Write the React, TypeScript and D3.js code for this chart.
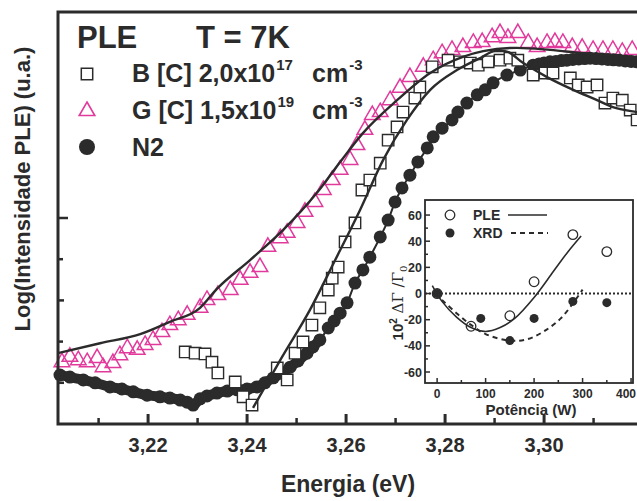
import React from 'react';
import * as d3 from 'd3';

// ---------- main plot data (energy in eV, log intensity in arbitrary units) ----------
const gEnergy = [3.2026,3.2042,3.2059,3.2077,3.2097,3.2109,3.2129,3.2143,3.2158,3.2178,3.2194,3.2210,3.2228,3.2244,3.2261,3.2279,3.2305,3.2319,3.2341,3.2366,3.2386,3.2406,3.2426,3.2442,3.2467,3.2481,3.2501,3.2517,3.2537,3.2554,3.2572,3.2588,3.2608,3.2622,3.2638,3.2653,3.2669,3.2689,3.2709,3.2729,3.2756,3.2776,3.2794,3.2814,3.2836,3.2857,3.2875,3.2895,3.2911,3.2927,3.2947,3.2968,3.2986,3.3006,3.3022,3.3038,3.3057,3.3077,3.3099,3.3119,3.3139,3.3158,3.3178];
const gValue = [1.50,1.63,1.55,1.50,1.60,1.38,1.48,1.67,1.84,1.80,1.92,2.04,2.23,2.40,2.52,2.65,2.82,3.01,3.13,3.25,3.50,3.67,3.81,4.30,4.51,4.64,4.88,5.15,5.39,5.68,5.92,6.17,6.41,6.77,7.14,7.50,7.57,7.86,8.16,8.42,8.67,8.83,9.00,9.08,9.15,9.25,9.27,9.39,9.49,9.37,9.49,9.25,9.15,9.25,9.27,9.25,9.15,9.13,9.08,9.08,9.08,9.03,9.08];

const bEnergy = [3.2275,3.2295,3.2315,3.2329,3.2341,3.2376,3.2392,3.2410,3.2461,3.2481,3.2497,3.2513,3.2531,3.2547,3.2564,3.2572,3.2584,3.2598,3.2618,3.2632,3.2648,3.2669,3.2685,3.2703,3.2715,3.2739,3.2749,3.2774,3.2806,3.2830,3.2851,3.2867,3.2887,3.2911,3.2931,3.2947,3.2978,3.3002,3.3018,3.3053,3.3069,3.3087,3.3107,3.3123,3.3139,3.3158,3.3174,3.3188];
const bValue = [1.75,1.72,1.70,1.50,1.24,1.02,0.66,0.46,1.36,1.07,1.72,1.99,2.40,2.82,3.25,3.54,3.81,4.42,4.88,5.68,5.92,6.33,6.89,7.21,7.57,7.91,8.18,8.67,8.83,8.79,8.76,8.71,8.79,8.83,8.88,8.83,8.47,8.52,8.52,8.40,8.23,8.18,8.23,7.79,7.91,7.86,7.62,7.38];

const n2Energy = [3.2022,3.2042,3.2069,3.2093,3.2123,3.2147,3.2170,3.2198,3.2224,3.2244,3.2265,3.2279,3.2291,3.2305,3.2319,3.2339,3.2360,3.2380,3.2400,3.2420,3.2436,3.2453,3.2471,3.2487,3.2503,3.2521,3.2533,3.2547,3.2564,3.2576,3.2588,3.2602,3.2618,3.2634,3.2648,3.2669,3.2685,3.2699,3.2713,3.2729,3.2745,3.2764,3.2776,3.2794,3.2814,3.2826,3.2844,3.2865,3.2881,3.2897,3.2925,3.2952,3.2978,3.2990,3.3000,3.3012,3.3024,3.3035,3.3046,3.3058,3.3070,3.3082,3.3093,3.3105,3.3117,3.3129,3.3140,3.3152,3.3164,3.3176,3.3188];
const n2Value = [1.19,1.14,1.07,1.00,0.90,0.85,0.78,0.70,0.66,0.63,0.58,0.53,0.46,0.61,0.68,0.75,0.80,0.83,0.85,0.90,1.00,1.12,1.24,1.38,1.53,1.72,1.87,2.04,2.33,2.50,2.69,2.94,3.42,3.74,4.05,4.54,4.95,5.39,5.73,6.04,6.36,6.70,6.97,7.18,7.38,7.57,7.79,7.99,8.11,8.28,8.47,8.59,8.71,8.74,8.76,8.79,8.80,8.82,8.83,8.85,8.86,8.87,8.88,8.87,8.86,8.85,8.84,8.83,8.81,8.80,8.79];

const gFitEnergy = [3.2018,3.2103,3.2184,3.2244,3.2305,3.2339,3.2406,3.2473,3.2541,3.2588,3.2634,3.2703,3.2770,3.2836,3.2877,3.2945,3.3012,3.3079,3.3180,3.3214];
const gFitValue = [1.72,1.96,2.18,2.48,2.82,3.28,3.98,4.71,5.61,6.36,7.06,7.86,8.52,8.91,9.05,9.13,9.08,9.00,8.91,8.88];

const bFitEnergy = [3.2412,3.2467,3.2527,3.2578,3.2628,3.2675,3.2723,3.2770,3.2824,3.2871,3.2901,3.2921,3.2958,3.3006,3.3059,3.3107,3.3139,3.3188,3.3214];
const bFitValue = [0.39,1.55,2.77,3.98,5.19,6.41,7.38,8.11,8.59,8.88,9.05,9.05,8.76,8.42,8.11,7.86,7.69,7.57,7.52];

const energyMajorTicks = [3.22, 3.24, 3.26, 3.28, 3.30];
const energyMinorTicks = [3.21, 3.23, 3.25, 3.27, 3.29, 3.31];
const logMajorTicks = [1, 3, 5];
const logMinorTicks = [2, 4];

// ---------- inset data ----------
const plePower = [0, 70, 150, 200, 280, 350];
const pleDelta = [0, -25, -17, 9, 45, 32];
const xrdPower = [0, 90, 150, 200, 280, 350];
const xrdDelta = [0, -19, -36, -19, -6, -7];
const pleFitPower = [-10, 10, 40, 70, 100, 130, 160, 200, 240, 270, 297];
const pleFitDelta = [6, -6, -18, -26, -29, -26, -19, -3, 17, 32, 44];
const xrdFitPower = [10, 40, 70, 100, 150, 185, 220, 255, 283, 300];
const xrdFitDelta = [-5, -15, -24, -31, -36, -35, -29, -19, -6, 3];
const powerTicks = [0, 100, 200, 300, 400];
const powerMinor = [50, 150, 250, 350];
const deltaTicks = [-60, -40, -20, 0, 20, 40, 60];
const deltaMinor = [-50, -30, -10, 10, 30, 50];

const DARK = '#2b2b2b';
const PINK = '#e23a9c';
const FONT = '"Liberation Sans", Arial, Helvetica, sans-serif';

function zip(a: number[], b: number[]): [number, number][] {
  return a.map((v, i) => [v, b[i]] as [number, number]);
}

export default function App() {
  const svgW = 637;
  const svgH = 501;
  const x = d3.scaleLinear().domain([3.2018, 3.3214]).range([58, 650]);
  const y = d3.scaleLinear().domain([0, 10]).range([424, 12]);

  const ix = d3.scaleLinear().domain([-25, 404]).range([425, 633]);
  const iy = d3.scaleLinear().domain([-68.4, 71.5]).range([383, 200]);

  const fitLine = d3
    .line()
    .x((d: any) => x(d[0]))
    .y((d: any) => y(d[1]))
    .curve(d3.curveMonotoneX);
  const insetLine = d3
    .line()
    .x((d: any) => ix(d[0]))
    .y((d: any) => iy(d[1]))
    .curve(d3.curveCatmullRom.alpha(0.5));

  const tri = d3.symbol().type(d3.symbolTriangle).size(105)() || '';
  const sq = d3.symbol().type(d3.symbolSquare).size(130)() || '';

  const fmt = (v: number) => v.toFixed(2).replace('.', ',');

  const n2Pts = zip(n2Energy, n2Value);
  const n2Low = n2Pts.filter((p) => p[0] <= 3.2548);

  return (
    <svg
      width={svgW}
      height={svgH}
      style={{ position: 'absolute', left: 0, top: 0, background: '#fff', overflow: 'hidden' }}
      fontFamily={FONT}
    >
      <rect x={0} y={0} width={svgW} height={svgH} fill="#fff" />

      <path d={fitLine(n2Pts as any) || ''} fill="none" stroke={DARK} strokeWidth={2} />

      {gEnergy.map((e, i) => (
        <path
          key={'g' + i}
          d={tri}
          transform={`translate(${x(e)},${y(gValue[i])})`}
          fill="none"
          stroke={PINK}
          strokeWidth={1.5}
        />
      ))}

      {/* dense low-energy part of N2 renders as a continuous band of dots */}
      <path d={fitLine(n2Low as any) || ''} fill="none" stroke={DARK} strokeWidth={10} strokeLinecap="round" />
      {n2Energy.map((e, i) => (
        <circle key={'n' + i} cx={x(e)} cy={y(n2Value[i])} r={6.5} fill={DARK} />
      ))}

      {bEnergy.map((e, i) => (
        <path
          key={'b' + i}
          d={sq}
          transform={`translate(${x(e)},${y(bValue[i])})`}
          fill="#fff"
          stroke={DARK}
          strokeWidth={1.4}
        />
      ))}

      <path d={fitLine(zip(gFitEnergy, gFitValue) as any) || ''} fill="none" stroke={DARK} strokeWidth={2.4} />
      <path d={fitLine(zip(bFitEnergy, bFitValue) as any) || ''} fill="none" stroke={DARK} strokeWidth={2.4} />

      <path d="M650,12 H58 V424 H650" fill="none" stroke={DARK} strokeWidth={3} />

      {energyMajorTicks.map((t) => (
        <g key={'mt' + t}>
          <line x1={x(t)} x2={x(t)} y1={424} y2={414} stroke={DARK} strokeWidth={3} />
          <text x={x(t)} y={452} textAnchor="middle" fontSize={20} fontWeight="bold" fill={DARK}>
            {fmt(t)}
          </text>
        </g>
      ))}
      {energyMinorTicks.map((t) => (
        <line key={'mn' + t} x1={x(t)} x2={x(t)} y1={424} y2={418} stroke={DARK} strokeWidth={2.5} />
      ))}
      {logMajorTicks.map((t) => (
        <line key={'lm' + t} x1={58} x2={t === 5 ? 68 : 64} y1={y(t)} y2={y(t)} stroke={DARK} strokeWidth={2.5} />
      ))}
      {logMinorTicks.map((t) => (
        <line key={'ln' + t} x1={58} x2={63} y1={y(t)} y2={y(t)} stroke={DARK} strokeWidth={2.5} />
      ))}

      <text x={348} y={492} textAnchor="middle" fontSize={23} fontWeight="bold" fill={DARK}>
        Energia (eV)
      </text>
      <text transform="translate(30,189) rotate(-90)" textAnchor="middle" fontSize={22} fontWeight="bold" fill={DARK}>
        Log(Intensidade PLE) (u.a.)
      </text>

      <text x={77} y={48} fontSize={31} fontWeight="bold" fill={DARK}>PLE</text>
      <text x={196} y={48} fontSize={31} fontWeight="bold" fill={DARK}>T = 7K</text>

      <path d={sq} transform="translate(87,74)" fill="#fff" stroke={DARK} strokeWidth={1.5} />
      <text y={82} fontSize={25} fontWeight="bold" fill={DARK}>
        <tspan x={132}>B [C] 2,0x10</tspan>
        <tspan dx={1} dy={-12} fontSize={15}>17</tspan>
        <tspan x={312} dy={12}>cm</tspan>
        <tspan dx={1} dy={-12} fontSize={15}>-3</tspan>
      </text>

      <path d={tri} transform="translate(87,111)" fill="none" stroke={PINK} strokeWidth={1.6} />
      <text y={119} fontSize={25} fontWeight="bold" fill={DARK}>
        <tspan x={132}>G [C] 1,5x10</tspan>
        <tspan dx={1} dy={-12} fontSize={15}>19</tspan>
        <tspan x={312} dy={12}>cm</tspan>
        <tspan dx={1} dy={-12} fontSize={15}>-3</tspan>
      </text>

      <circle cx={87} cy={147} r={8} fill={DARK} />
      <text x={132} y={156} fontSize={25} fontWeight="bold" fill={DARK}>N2</text>

      {/* inset */}
      <rect x={425} y={200} width={208} height={183} fill="#fff" />
      <line x1={425} x2={633} y1={iy(0)} y2={iy(0)} stroke={DARK} strokeWidth={2} strokeDasharray="2,2" />
      <path d={insetLine(zip(pleFitPower, pleFitDelta) as any) || ''} fill="none" stroke={DARK} strokeWidth={1.6} />
      <path
        d={insetLine(zip(xrdFitPower, xrdFitDelta) as any) || ''}
        fill="none"
        stroke={DARK}
        strokeWidth={2}
        strokeDasharray="5,4"
      />
      {xrdPower.map((p, i) => (
        <circle key={'x' + i} cx={ix(p)} cy={iy(xrdDelta[i])} r={4.5} fill={DARK} />
      ))}
      {plePower.map((p, i) => (
        <circle key={'p' + i} cx={ix(p)} cy={iy(pleDelta[i])} r={4.8} fill="none" stroke={DARK} strokeWidth={1.3} />
      ))}
      <rect x={425} y={200} width={208} height={183} fill="none" stroke={DARK} strokeWidth={1.8} />
      {powerTicks.map((t) => (
        <g key={'pt' + t}>
          <line x1={ix(t)} x2={ix(t)} y1={383} y2={378} stroke={DARK} strokeWidth={1.5} />
          <text
            x={t === 400 ? 636 : ix(t)}
            y={398}
            textAnchor={t === 400 ? 'end' : 'middle'}
            fontSize={12}
            fontWeight="bold"
            fill={DARK}
          >
            {t}
          </text>
        </g>
      ))}
      {powerMinor.map((t) => (
        <line key={'pm' + t} x1={ix(t)} x2={ix(t)} y1={383} y2={380} stroke={DARK} strokeWidth={1.5} />
      ))}
      {deltaTicks.map((t) => (
        <g key={'dt' + t}>
          <line x1={425} x2={430} y1={iy(t)} y2={iy(t)} stroke={DARK} strokeWidth={1.5} />
          <text x={422} y={iy(t) + 4.5} textAnchor="end" fontSize={12.5} fontWeight="bold" fill={DARK}>
            {t}
          </text>
        </g>
      ))}
      {deltaMinor.map((t) => (
        <line key={'dm' + t} x1={425} x2={428} y1={iy(t)} y2={iy(t)} stroke={DARK} strokeWidth={1.5} />
      ))}
      <text x={531} y={415} textAnchor="middle" fontSize={15} fontWeight="bold" fill={DARK}>
        Potência (W)
      </text>
      <text transform="translate(403,303) rotate(-90)" textAnchor="middle" fontSize={15} fill={DARK}>
        <tspan fontWeight="bold">10</tspan>
        <tspan dy={-6} fontSize={10} fontWeight="bold">2</tspan>
        <tspan dy={6} fontFamily="'DejaVu Serif', serif"> ΔΓ /Γ</tspan>
        <tspan dy={4} fontSize={10} fontFamily="'DejaVu Serif', serif">0</tspan>
      </text>

      <circle cx={450} cy={215} r={4.8} fill="none" stroke={DARK} strokeWidth={1.3} />
      <text x={473} y={220} fontSize={14} fontWeight="bold" fill={DARK}>PLE</text>
      <line x1={508} x2={547} y1={215} y2={215} stroke={DARK} strokeWidth={1.6} />
      <circle cx={450} cy={233} r={4.5} fill={DARK} />
      <text x={473} y={238} fontSize={14} fontWeight="bold" fill={DARK}>XRD</text>
      <line x1={511} x2={548} y1={233} y2={233} stroke={DARK} strokeWidth={2} strokeDasharray="5,4" />
    </svg>
  );
}
